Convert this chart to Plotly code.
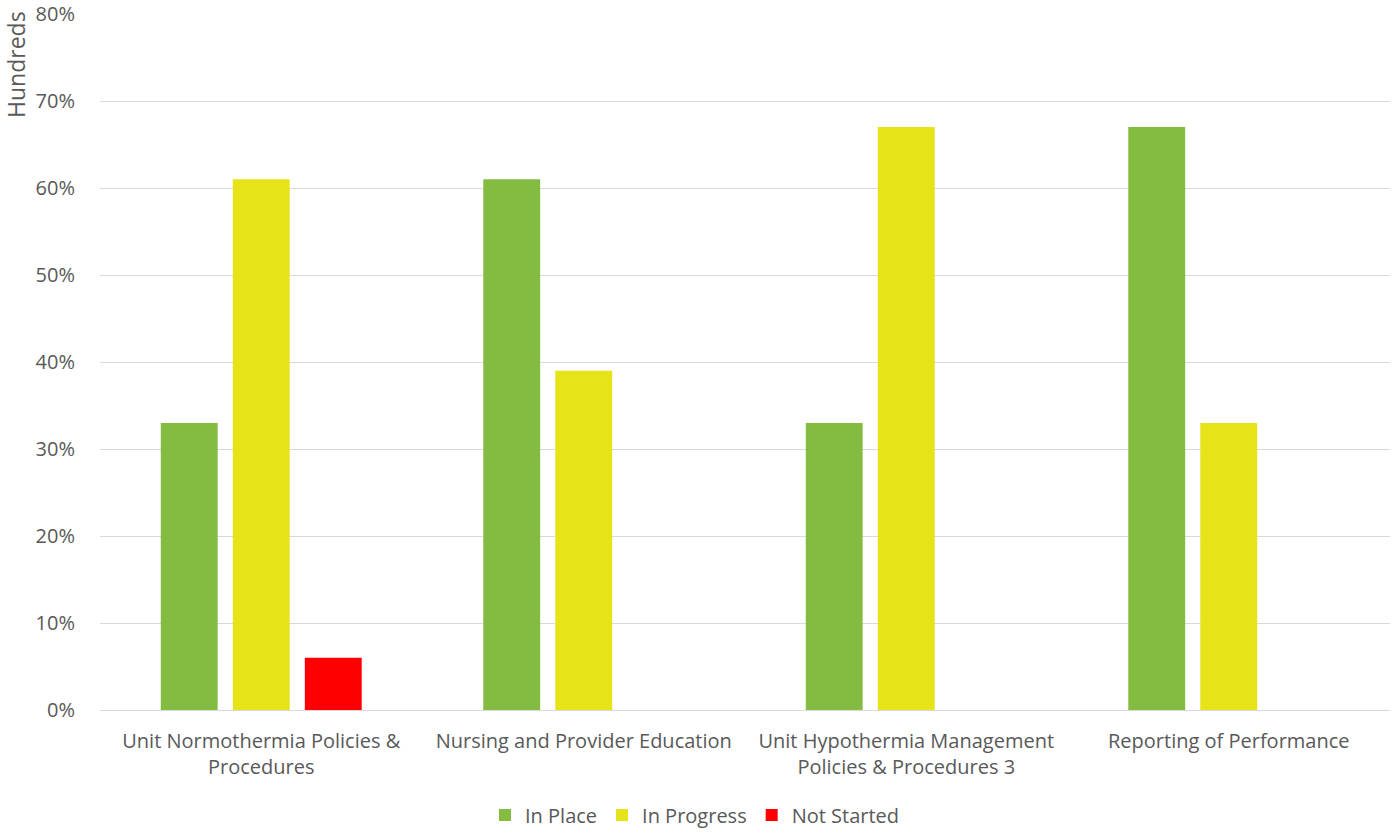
import plotly.graph_objects as go

categories = [
    "Unit Normothermia Policies &<br>Procedures",
    "Nursing and Provider Education",
    "Unit Hypothermia Management<br>Policies & Procedures 3",
    "Reporting of Performance",
]
in_place = [0.33, 0.61, 0.33, 0.67]
in_progress = [0.61, 0.39, 0.67, 0.33]
not_started = [0.06, 0, 0, 0]

FONT = "'Open Sans', Lato, sans-serif"
GRAY = "#595959"
FS = 20

fig = go.Figure()
fig.add_bar(name="In Place", x=categories, y=in_place, marker_color="#84BC41", marker_line_width=0)
fig.add_bar(name="In Progress", x=categories, y=in_progress, marker_color="#E6E318", marker_line_width=0)
fig.add_bar(name="Not Started", x=categories, y=not_started, marker_color="#FF0000", marker_line_width=0)

fig.update_layout(
    width=1395, height=833,
    margin=dict(l=100, r=5, t=14, b=123, autoexpand=False),
    paper_bgcolor="white", plot_bgcolor="white",
    barmode="group", bargap=0.33, bargroupgap=0.21,
    font=dict(family=FONT, size=FS, color=GRAY),
    showlegend=True,
    legend=dict(orientation="h", x=(695 - 100) / 1290, xanchor="center", y=-0.151, yanchor="middle",
                font=dict(size=FS, color=GRAY), itemsizing="constant", traceorder="normal"),
)
fig.update_yaxes(
    range=[0, 0.8], dtick=0.1, tickformat=".0%", automargin=False,
    showgrid=True, gridcolor="#D9D9D9", gridwidth=1,
    zeroline=False, showline=False,
    ticks="outside", ticklen=20, tickcolor="rgba(0,0,0,0)",
    tickfont=dict(size=FS, color=GRAY),
)
fig.update_xaxes(
    showline=True, linecolor="#D9D9D9", linewidth=1, automargin=False,
    ticks="outside", ticklen=13, tickcolor="rgba(0,0,0,0)",
    tickfont=dict(size=FS, color=GRAY),
)
fig.add_annotation(
    text="Hundreds", textangle=-90, showarrow=False,
    xref="paper", yref="paper", x=(16 - 100) / 1290, y=(710 - 65) / 696,
    xanchor="center", yanchor="middle",
    font=dict(size=23, color=GRAY),
)

fig.write_html("out.html")
